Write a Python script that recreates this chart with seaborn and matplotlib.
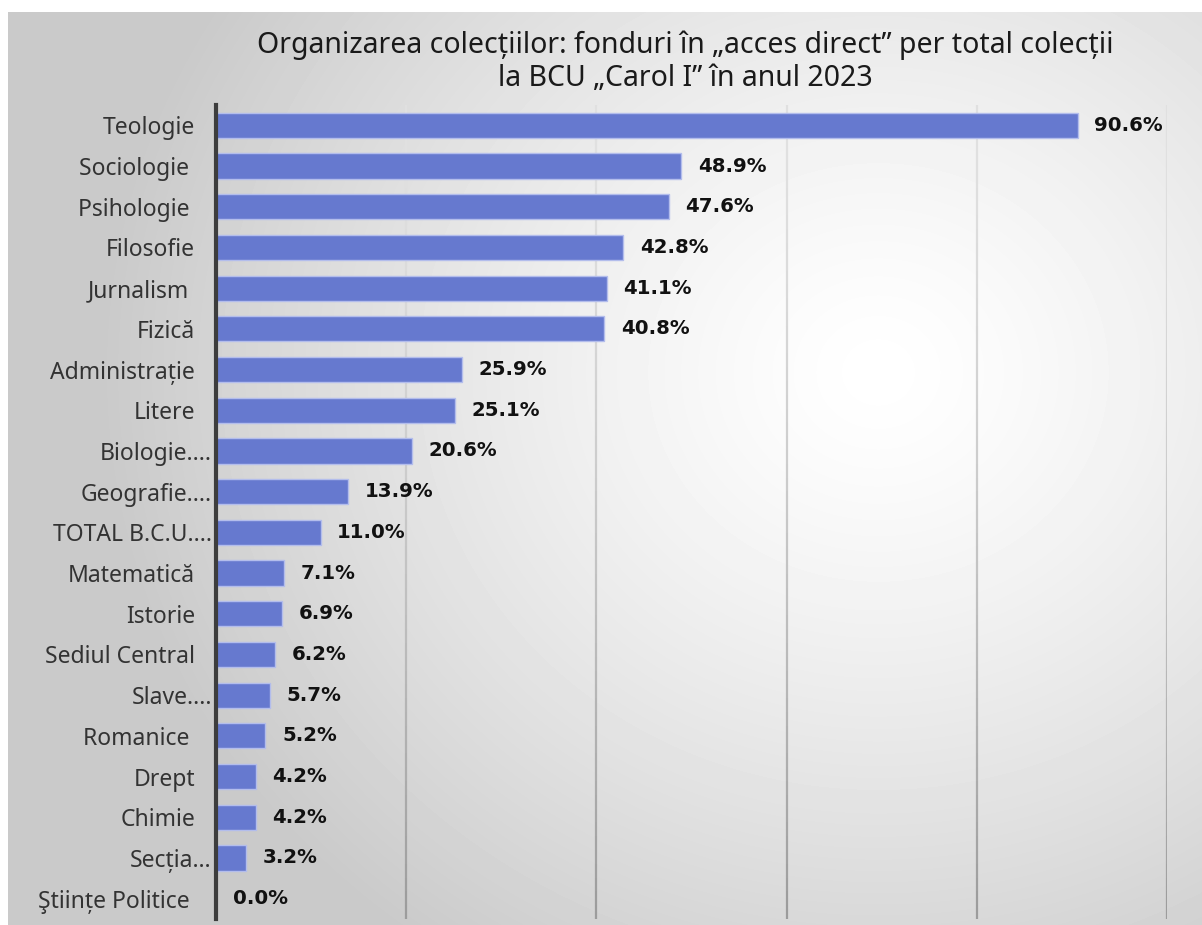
import numpy as np
import matplotlib
matplotlib.use("Agg")
import matplotlib.pyplot as plt
from matplotlib.collections import LineCollection
from matplotlib.transforms import ScaledTranslation
import seaborn as sns

categories = ["Teologie", "Sociologie ", "Psihologie ", "Filosofie", "Jurnalism ",
              "Fizică", "Administrație", "Litere", "Biologie....", "Geografie....",
              "TOTAL B.C.U....", "Matematică", "Istorie", "Sediul Central", "Slave....",
              "Romanice ", "Drept", "Chimie", "Secția…", "Ştiințe Politice "]
values = [90.6, 48.9, 47.6, 42.8, 41.1, 40.8, 25.9, 25.1, 20.6, 13.9,
          11.0, 7.1, 6.9, 6.2, 5.7, 5.2, 4.2, 4.2, 3.2, 0.0]
value_labels = [f"{v:.1f}%" for v in values]
title = "Organizarea colecțiilor: fonduri în „acces direct” per total colecții\nla BCU „Carol I” în anul 2023"

sns.set_style("white")
plt.rcParams["font.family"] = ["Noto Sans", "DejaVu Sans"]

W, H = 1202, 925
fig = plt.figure(figsize=(W / 100, H / 100), dpi=100)

# radial grey-to-white background panel
bg = fig.add_axes([8 / W, 0, 1 - 8 / W, 1 - 12 / H])
yy, xx = np.mgrid[0:913, 0:1194]
r = np.hypot(xx - 870, (yy - 360) * 1.1) / 780
shade = 1.0 - 0.21 * np.clip(r, 0, 1) ** 1.3
bg.imshow(shade, cmap="gray", vmin=0, vmax=1, aspect="auto", interpolation="bilinear")
bg.axis("off")
bg.set_zorder(-10)

ax = fig.add_axes([216 / W, 6 / H, (1167 - 216) / W, (919 - 105) / H])
ax.patch.set_alpha(0)
sns.barplot(x=values, y=categories, orient="h", color="#6679cf", saturation=1,
            width=0.62, edgecolor="#b3bdec", linewidth=1, ax=ax, zorder=3)

ax.bar_label(ax.containers[0], labels=value_labels, padding=12,
             fontsize=14.2, fontweight="bold", family="DejaVu Sans", color="#111111")

ax.set_xlim(0, 100)
ax.set_ylim(19.5, -0.5)
ax.set_xticks([0, 20, 40, 60, 80, 100])
ax.set_xticklabels([])
ax.tick_params(axis="x", length=0)
ax.tick_params(axis="y", length=0, pad=15, labelsize=16.5, labelcolor="#333333")

# gridlines fade from light at the top to darker grey at the bottom
ys = np.linspace(-0.5, 19.5, 60)
for gx in ax.get_xticks()[1:]:
    segs = [[(gx, a), (gx, b)] for a, b in zip(ys[:-1], ys[1:])]
    t = np.linspace(0, 1, len(segs))
    cols = [(g, g, g) for g in 0.88 - 0.27 * t ** 1.5]
    ax.add_collection(LineCollection(segs, colors=cols, linewidths=1.6, zorder=1))

for s in ["top", "right", "bottom"]:
    ax.spines[s].set_visible(False)
ax.spines["left"].set_color("#3d3d3d")
ax.spines["left"].set_linewidth(3)
ax.spines["left"].set_zorder(4)
ax.set_xlabel("")
ax.set_ylabel("")

# truncated labels run right up to the axis line
for lab in ax.get_yticklabels():
    if lab.get_text().endswith((".", "…")):
        lab.set_transform(lab.get_transform() + ScaledTranslation(12 / 72, 0, fig.dpi_scale_trans))

fig.text(685 / W, 1 - 62 / H, title, ha="center", va="center", fontsize=20.5,
         color="#1a1a1a", linespacing=1.2)

fig.savefig("out.png", dpi=100)
